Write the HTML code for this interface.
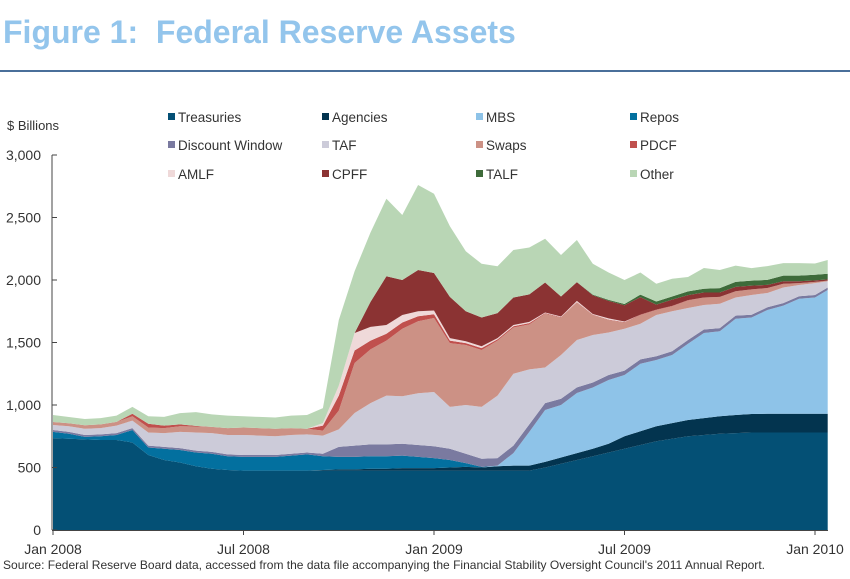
<!DOCTYPE html>
<html><head><meta charset="utf-8">
<style>
html,body{margin:0;padding:0;background:#fff;}
svg{display:block;font-family:"Liberation Sans",Arial,sans-serif;}
</style></head>
<body>
<svg id="chart" width="850" height="579" viewBox="0 0 850 579">
  <text x="3" y="43" font-size="32" font-weight="bold" fill="#93c5ec" xml:space="preserve">Figure 1:  Federal Reserve Assets</text>
  <rect x="0" y="70" width="850" height="2" fill="#4a6f9a"/>
  <text x="7" y="130" font-size="13" fill="#333">$ Billions</text>
  <g id="plot"></g>
  <g id="axes"></g>
  <g id="legend"></g>
  <text x="3" y="569" font-size="12" fill="#333" textLength="762" lengthAdjust="spacingAndGlyphs">Source: Federal Reserve Board data, accessed from the data file accompanying the Financial Stability Oversight Council's 2011 Annual Report.</text>
</svg>
<script>
// ---- data (semi-monthly points, Jan 2008 .. mid-Jan 2010), $ billions ----
const seriesNames = ["Treasuries","Agencies","MBS","Repos","Discount Window","TAF","Swaps","PDCF","AMLF","CPFF","TALF","Other"];
const seriesColors = ["#045075","#03344f","#8ec3e8","#03709f","#7a7aa0","#cccbd9","#cc9185","#c0504d","#efd9d9","#8b3333","#3e6b3a","#b9d6b5"];
const months = [0,0.5,1,1.5,2,2.5,3,3.5,4,4.5,5,5.5,6,6.5,7,7.5,8,8.5,9,9.5,10,10.5,11,11.5,12,12.5,13,13.5,14,14.5,15,15.5,16,16.5,17,17.5,18,18.5,19,19.5,20,20.5,21,21.5,22,22.5,23,23.5,24,24.4];
const treasuries = [735,730,725,720,720,700,600,560,540,510,490,480,475,475,475,475,475,475,475,475,475,475,475,475,475,475,475,475,475,475,475,500,530,560,590,620,650,680,710,730,750,760,770,775,780,780,780,780,780,780];
const agencies = [0,0,0,0,0,0,0,0,0,0,0,0,0,0,0,0,0,5,10,10,15,15,20,20,20,25,30,25,35,40,40,45,50,55,60,70,100,110,120,125,130,135,140,145,148,150,150,150,150,150];
const mbs = [0,0,0,0,0,0,0,0,0,0,0,0,0,0,0,0,0,0,0,0,0,0,0,0,0,0,0,0,5,100,270,415,420,481,490,510,490,540,530,545,610,681,680,770,772,830,865,920,930,990];
const repos = [50,40,20,30,40,100,60,90,100,110,120,110,110,110,110,120,130,110,100,100,100,100,100,90,80,60,30,5,0,0,0,0,0,0,0,0,0,0,0,0,0,0,0,0,0,0,0,0,0,0];
const discountWindow = [15,15,15,15,15,15,15,15,15,15,15,15,15,15,15,15,15,20,80,90,95,95,95,95,95,90,75,65,60,60,60,55,50,45,40,40,35,35,30,30,30,28,25,25,22,22,20,20,20,20];
const taf = [40,45,50,50,60,60,105,110,130,145,150,155,160,155,150,150,145,145,140,261,330,390,380,414,434,335,390,415,500,575,440,285,350,379,380,340,335,285,330,320,256,196,195,145,158,114,125,90,95,50];
const swaps = [24,24,28,30,30,35,40,40,45,48,50,55,60,60,60,55,45,40,150,400,430,440,540,576,592,510,480,455,440,370,360,430,300,300,160,100,50,70,40,40,60,60,55,50,45,40,30,15,10,5];
const pdcf = [0,0,0,0,0,20,30,20,15,5,0,0,0,0,0,0,0,40,120,100,70,55,50,40,30,20,15,15,10,10,10,5,3,3,3,3,3,3,3,3,3,0,0,0,0,0,0,0,0,0];
const amlf = [0,0,0,0,0,0,0,0,0,0,0,0,0,0,0,0,0,20,80,140,110,70,60,40,30,20,15,15,10,10,10,5,5,10,5,10,5,0,0,0,0,0,0,0,0,0,0,0,0,0];
const cpff = [0,0,0,0,0,0,0,0,0,0,0,0,0,0,0,0,0,0,0,0,200,390,280,330,300,330,240,230,200,220,220,240,160,150,150,140,130,140,40,50,40,40,35,35,30,25,20,15,12,10];
const talf = [0,0,0,0,0,0,0,0,0,0,0,0,0,0,0,0,0,0,0,0,0,0,0,0,0,0,0,0,0,0,0,0,0,0,5,8,10,20,25,25,30,30,35,40,40,40,45,45,45,45];
const other = [56,50,50,50,50,55,60,70,90,110,100,100,90,90,90,100,110,120,525,494,555,620,520,680,634,565,480,430,375,380,375,350,332,337,247,219,192,177,142,142,115,166,145,130,100,110,100,100,90,110];
const yTicks = [0,500,1000,1500,2000,2500,3000];
const yTickLabels = ["0","500","1,000","1,500","2,000","2,500","3,000"];
const xTicks = [0,6,12,18,24];
const xTickLabels = ["Jan 2008","Jul 2008","Jan 2009","Jul 2009","Jan 2010"];

const NS = "http://www.w3.org/2000/svg";
const X0 = 53, PXM = 31.75, Y0 = 530, PXV = 375/3000;
function xScale(m){ return X0 + m*PXM; }
function yScale(v){ return Y0 - v*PXV; }
function mk(tag, attrs, parent){ const e=document.createElementNS(NS,tag); for(const k in attrs) e.setAttribute(k,attrs[k]); parent.appendChild(e); return e; }

const allSeries = [treasuries,agencies,mbs,repos,discountWindow,taf,swaps,pdcf,amlf,cpff,talf,other];
const plot = document.getElementById("plot");
let base = months.map(()=>0);
allSeries.forEach((s, k) => {
  const top = base.map((b,i)=>b+s[i]);
  let d = "M" + months.map((m,i)=>xScale(m).toFixed(1)+","+yScale(top[i]).toFixed(1)).join("L");
  for(let i=months.length-1;i>=0;i--) d += "L"+xScale(months[i]).toFixed(1)+","+yScale(base[i]).toFixed(1);
  d += "Z";
  const p = mk("path", {d:d, fill:seriesColors[k]}, plot);
  
  
  base = top;
});

const axes = document.getElementById("axes");
const yl = mk("line",{x1:X0-1,y1:yScale(3000),x2:X0-1,y2:Y0,stroke:"#444","stroke-width":1},axes);


const xl = mk("line",{x1:X0-1,y1:Y0+0.5,x2:828,y2:Y0+0.5,stroke:"#444","stroke-width":1},axes);


yTicks.forEach((v,i)=>{
  const t = mk("line",{x1:X0-1,y1:yScale(v),x2:X0+4,y2:yScale(v),stroke:"#444","stroke-width":1},axes);
  
  
  const tx = mk("text",{x:41,y:yScale(v)+5,"font-size":14,fill:"#333","text-anchor":"end"},axes);
  tx.textContent = yTickLabels[i];
  
  
});
xTicks.forEach((m,i)=>{
  const t = mk("line",{x1:xScale(m),y1:Y0,x2:xScale(m),y2:Y0+5,stroke:"#444","stroke-width":1},axes);
  
  
  const tx = mk("text",{x:xScale(m),y:554,"font-size":14,fill:"#333","text-anchor":"middle"},axes);
  tx.textContent = xTickLabels[i];
  
  
});

const legend = document.getElementById("legend");
const legX = [168,322,476,630], legY = [117,145,174];
seriesNames.forEach((n,k)=>{
  const col = k%4, row = Math.floor(k/4);
  const g = mk("g",{},legend);
  
  
  mk("rect",{x:legX[col],y:legY[row]-4,width:7,height:7,fill:seriesColors[k]},g);
  const t = mk("text",{x:legX[col]+10,y:legY[row]+5,"font-size":13.5,fill:"#333"},g);
  t.textContent = n;
});
</script>
</body></html>
